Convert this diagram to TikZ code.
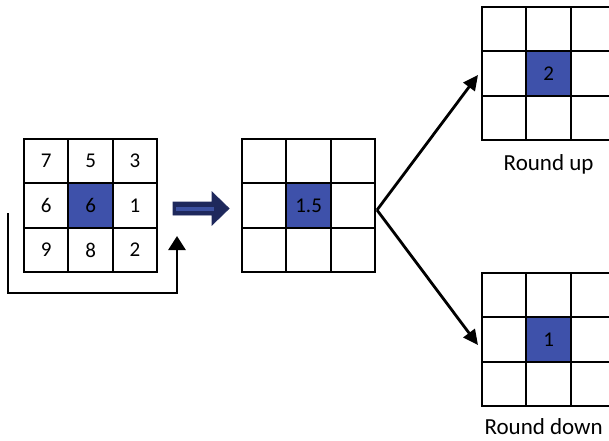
\documentclass[tikz,border=0pt]{standalone}
\usepackage{fontspec}
\setmainfont{Carlito}
\usetikzlibrary{arrows.meta}
\definecolor{cellblue}{RGB}{62,81,170}
\definecolor{navy}{RGB}{30,40,92}
\definecolor{stripe}{RGB}{60,80,160}
\tikzset{
  cell/.style={draw=black, line width=2pt, minimum size=44.4pt, inner sep=0pt, outer sep=0pt, font=\fontsize{21}{24}\selectfont},
  hot/.style={cell, fill=cellblue},
  flow/.style={draw=black, line width=2.8pt, -{Triangle[length=15pt,width=14pt]}},
  lbl/.style={font=\fontsize{23}{26}\selectfont, inner sep=0pt}
}
\begin{document}
\begin{tikzpicture}[x=1pt,y=-1pt]
\useasboundingbox (0,0) rectangle (609,440);
\clip (0,0) rectangle (609,440);
% grid 1
\node[cell] (a00) at (46.2,161.2) {7};
\node[cell] (a01) at (90.6,161.2) {5};
\node[cell] (a02) at (135.0,161.2) {3};
\node[cell] (a10) at (46.2,205.6) {6};
\node[hot]  (a11) at (90.6,205.6) {6};
\node[cell] (a12) at (135.0,205.6) {1};
\node[cell] (a20) at (46.2,250.0) {9};
\node[cell] (a21) at (90.6,250.0) {8};
\node[cell] (a22) at (135.0,250.0) {2};
% grid 2
\foreach \r in {0,1,2}{\foreach \c in {0,1,2}{
  \node[cell] (b\r\c) at (264.2+44.4*\c,161.2+44.4*\r) {};}}
\node[hot] (b11) at (308.6,205.6) {1.5};
% grid 3
\foreach \r in {0,1,2}{\foreach \c in {0,1,2}{
  \node[cell] (u\r\c) at (504.2+44.4*\c,29.2+44.4*\r) {};}}
\node[hot] (u11) at (548.6,73.6) {2};
% grid 4
\foreach \r in {0,1,2}{\foreach \c in {0,1,2}{
  \node[cell] (d\r\c) at (504.2+44.4*\c,295.2+44.4*\r) {};}}
\node[hot] (d11) at (548.6,339.6) {1};
% labels
\node[lbl] (lu) at (548.6,164) {Round up};
\node[lbl, anchor=east] (ld) at (603,427) {Round down};
% bracket arrow
\coordinate (s1) at (8,213);
\coordinate (s2) at (8,293);
\coordinate (s3) at (177,293);
\coordinate (s4) at (177,236);
\draw[draw=black, line width=2.8pt, -{Triangle[length=14pt,width=17pt]}] (s1) -- (s2) -- (s3) -- (s4);
% block arrow
\path[fill=navy, draw=navy, line width=0.8pt] (173,202) -- (212,202) -- (212,192) -- (229,208.5) -- (212,225) -- (212,215) -- (173,215) -- cycle;
\draw[stripe, line width=4pt] (176,208.5) -- (214,208.5);
% split arrows
\coordinate (apex) at (377,210);
\draw[flow] (apex) -- (478,75);
\draw[flow] (apex) -- (478,345);
\end{tikzpicture}
\end{document}
